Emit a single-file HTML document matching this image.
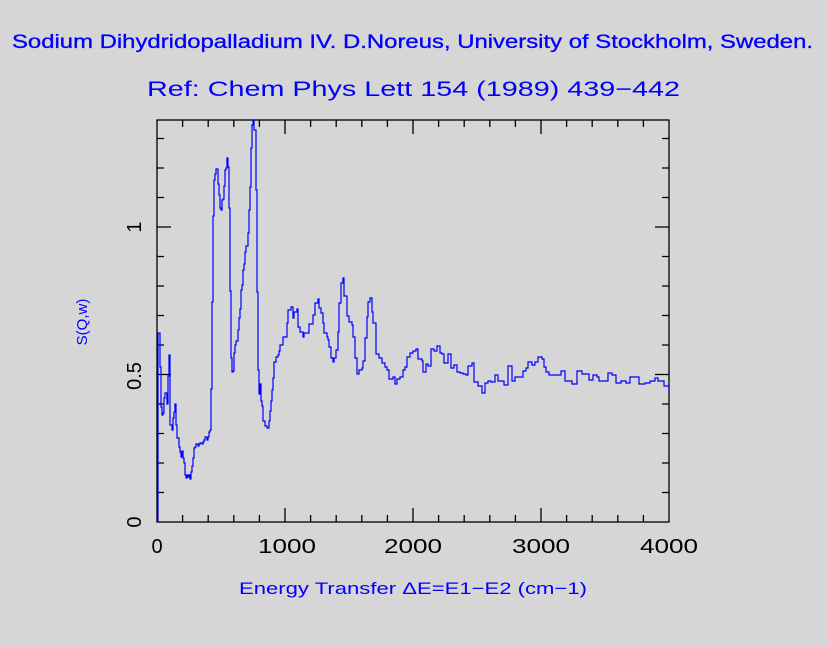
<!DOCTYPE html>
<html><head><meta charset="utf-8"><style>html,body{margin:0;padding:0;background:#d6d6d6;}svg{display:block}</style></head>
<body>
<svg width="827" height="645" viewBox="0 0 827 645" xmlns="http://www.w3.org/2000/svg" font-family="Liberation Sans, sans-serif">
<rect width="827" height="645" fill="#d6d6d6"/>
<text x="12" y="48" font-size="19" fill="#0000ff" textLength="801" lengthAdjust="spacingAndGlyphs" stroke="#0000ff" stroke-width="0.3">Sodium Dihydridopalladium IV. D.Noreus, University of Stockholm, Sweden.</text>
<text x="147" y="96" font-size="21" fill="#0000ff" textLength="533" lengthAdjust="spacingAndGlyphs">Ref: Chem Phys Lett 154 (1989) 439−442</text>
<g fill="#000" font-size="20">
<text x="157" y="553" text-anchor="middle">0</text>
<text x="287" y="553" text-anchor="middle" textLength="58" lengthAdjust="spacingAndGlyphs">1000</text>
<text x="413" y="553" text-anchor="middle" textLength="58" lengthAdjust="spacingAndGlyphs">2000</text>
<text x="541" y="553" text-anchor="middle" textLength="58" lengthAdjust="spacingAndGlyphs">3000</text>
<text x="669" y="553" text-anchor="middle" textLength="58" lengthAdjust="spacingAndGlyphs">4000</text>
<text transform="translate(134,227) rotate(-90)" text-anchor="middle" y="7">1</text>
<text transform="translate(134,376) rotate(-90)" text-anchor="middle" y="7">0.5</text>
<text transform="translate(134,522) rotate(-90)" text-anchor="middle" y="7">0</text>
</g>
<text transform="translate(82,322) rotate(-90)" text-anchor="middle" y="5" font-size="15" fill="#0000ff">S(Q,w)</text>
<text x="239" y="594" font-size="17" fill="#0000ff" textLength="348" lengthAdjust="spacingAndGlyphs">Energy Transfer ΔE=E1−E2 (cm−1)</text>
<g stroke="#000" stroke-width="1.3" fill="none">
<rect x="157" y="120" width="512" height="402"/>
<path d="M182.6,522v-7M208.2,522v-7M233.8,522v-7M259.4,522v-7M285,522v-14M310.6,522v-7M336.2,522v-7M361.8,522v-7M387.4,522v-7M413,522v-14M438.6,522v-7M464.2,522v-7M489.8,522v-7M515.4,522v-7M541,522v-14M566.6,522v-7M592.2,522v-7M617.8,522v-7M643.4,522v-7
M182.6,120v7M208.2,120v7M233.8,120v7M259.4,120v7M285,120v14M310.6,120v7M336.2,120v7M361.8,120v7M387.4,120v7M413,120v14M438.6,120v7M464.2,120v7M489.8,120v7M515.4,120v7M541,120v14M566.6,120v7M592.2,120v7M617.8,120v7M643.4,120v7
M157,492.5h7M157,463h7M157,433.5h7M157,404h7M157,374.5h14M157,345h7M157,315.5h7M157,286h7M157,256.5h7M157,227h14M157,197.5h7M157,168h7M157,138.5h7
M669,492.5h-7M669,463h-7M669,433.5h-7M669,404h-7M669,374.5h-14M669,345h-7M669,315.5h-7M669,286h-7M669,256.5h-7M669,227h-14M669,197.5h-7M669,168h-7M669,138.5h-7"/>
</g>
<path fill="none" stroke="#0000ff" stroke-width="1.2" d="M158,522 V333 H160 V367 H161 V407 H162 V415 H163 V413 H164 V398 H165 V393 H166 V393 H167 V404 H168 V376 H169 V355 H170 V376 V425 H172 V430 H173 V418 H174 V412 H175 V404 H176 V425 H177 V438 H179 V447 H180 V452 H181 V457 H182 V451 H183 V458 H184 V463 H185 V475 H186 V478 H187 V475 H188 V477 H189 V475 H190 V479 H191 V472 H192 V466 H193 V458 H194 V448 H195 V447 H196 V444 H198 V446 H199 V444 H200 V443 H202 V444 H203 V442 H204 V440 H205 V437 H207 V440 H208 V437 H209 V432 H210 V430 H211 V389 H212 V302 H213 V216 H214 V180 H215 V174 H216 V169 H218 V184 H219 V195 H220 V208 H221 V210 H222 V200 H223 V199 H224 V186 H225 V170 H226 V168 H227 V158 H228 V167 H229 V208 H230 V291 H231 V358 H232 V372 H233 V371 H234 V353 H235 V345 H236 V341 H238 V330 H239 V318 H240 V309 H241 V290 H242 V285 H243 V270 H244 V264 H245 V252 H246 V246 H248 V233 H249 V210 H250 V187 H251 V148 H252 V125 H253 V120 H254 V130 H256 V190 H257 V292 H258 V370 H259 V394 H260 V384 H261 V401 H262 V406 H263 V421 H265 V426 H267 V428 H269 V421 H270 V411 H271 V401 H272 V390 H273 V378 H274 V362 H276 V357 H278 V355 H279 V351 H280 V345 H283 V337 H287 V323 H288 V310 H291 V307 H293 V318 H294 V312 H297 V309 H298 V327 H300 V332 H303 V337 H304 V333 H307 V333 H309 V324 H313 V315 H315 V303 H318 V299 H319 V308 H321 V313 H323 V323 H324 V333 H327 V337 H328 V340 H329 V347 H331 V358 H333 V362 H334 V358 H336 V350 H338 V332 H339 V303 H341 V283 H343 V278 H344 V296 H347 V316 H349 V322 H352 V325 H353 V337 H355 V358 H357 V374 H359 V370 H362 V368 H363 V361 H365 V338 H367 V317 H368 V302 H370 V298 H372 V312 H373 V323 H376 V354 H379 V358 H382 V363 H385 V367 H387 V370 H389 V379 H393 V377 H395 V384 H397 V379 H400 V377 H403 V370 H405 V367 H407 V357 H410 V353 H413 V351 H416 V349 H418 V359 H422 V361 H423 V372 H426 V364 H428 V366 H431 V349 H434 V351 H437 V346 H440 V353 H442 V354 H444 V363 H448 V354 H451 V368 H454 V365 H457 V372 H460 V373 H463 V374 H466 V375 H468 V366 H472 V363 H474 V382 H478 V386 H482 V393 H485 V383 H488 V381 H491 V382 H495 V375 H498 V381 H504 V385 H508 V366 H512 V381 H515 V377 H523 V371 H526 V368 H528 V362 H532 V365 H535 V362 H538 V357 H542 V359 H544 V367 H546 V372 H549 V375 H553 V375 H561 V371 H565 V381 H572 V384 H577 V371 H582 V374 H585 V374 H589 V380 H593 V375 H597 V377 H599 V381 H608 V373 H612 V375 H616 V383 H621 V381 H626 V383 H630 V377 H635 V377 H639 V384 H645 V383 H650 V381 H655 V378 H658 V381 H664 V386 H669 V392"/>
</svg>
</body></html>
